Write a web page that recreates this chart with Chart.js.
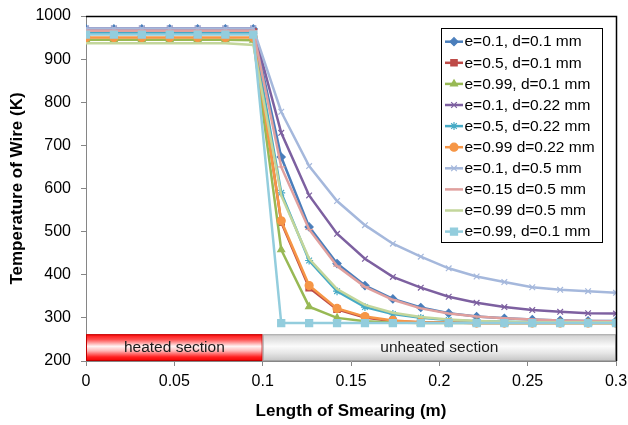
<!DOCTYPE html>
<html>
<head>
<meta charset="utf-8">
<script src="https://cdn.jsdelivr.net/npm/chart.js@4.4.0/dist/chart.umd.min.js"></script>
<style>
  html, body { margin: 0; padding: 0; background: #fff; }
  canvas { display: block; }
</style>
</head>
<body>
<canvas id="wire" width="628" height="425"></canvas>
<script>
// Posiciones a lo largo del alambre (m)
const lengths = [0, 0.0158, 0.0316, 0.0474, 0.0632, 0.0789, 0.0947, 0.1105, 0.1263, 0.1421,
  0.1579, 0.1737, 0.1895, 0.2053, 0.2211, 0.2368, 0.2526, 0.2684, 0.2842, 0.3];

// Temperaturas (K)
const tE01D01 = [970, 970, 970, 970, 970, 970, 970, 673, 511, 426, 375, 344, 324, 311, 303, 299, 296, 294, 293, 293];
const tE05D01 = [964, 964, 964, 964, 964, 964, 963, 522, 370, 320, 301, 292, 290, 289, 288, 288, 288, 288, 288, 288];
const tE099D01 = [945, 945, 945, 945, 945, 945, 944, 458, 326, 300, 292, 289, 288, 288, 288, 288, 288, 288, 288, 288];
const tE01D022 = [971, 971, 971, 971, 971, 971, 971, 729, 584, 495, 437, 395, 370, 349, 335, 325, 318, 314, 311, 310];
const tE05D022 = [960, 960, 960, 960, 960, 960, 960, 590, 433, 362, 325, 309, 300, 295, 292, 291, 290, 290, 289, 289];
const tE099D022 = [950, 950, 950, 950, 950, 950, 950, 525, 375, 322, 303, 294, 290, 289, 288, 288, 288, 288, 288, 288];
const tE01D05 = [971, 971, 971, 971, 971, 971, 971, 778, 652, 571, 515, 472, 442, 415, 396, 383, 371, 365, 362, 358];
const tE015D05 = [966, 966, 966, 966, 966, 966, 966, 650, 505, 420, 372, 342, 322, 310, 303, 299, 296, 294, 293, 292];
const tE099D05 = [937, 937, 937, 937, 937, 937, 933, 584, 437, 367, 330, 312, 302, 296, 293, 291, 290, 290, 290, 290];
const tE099D01b = [957, 957, 957, 957, 957, 957, 957, 288, 288, 288, 288, 288, 288, 288, 288, 288, 288, 288, 288, 288];

const seriesLabels = ["e=0.1, d=0.1 mm", "e=0.5, d=0.1 mm", "e=0.99, d=0.1 mm", "e=0.1, d=0.22 mm",
  "e=0.5, d=0.22 mm", "e=0.99 d=0.22 mm", "e=0.1, d=0.5 mm", "e=0.15 d=0.5 mm",
  "e=0.99 d=0.5 mm", "e=0.99, d=0.1 mm"];
const seriesValues = [tE01D01, tE05D01, tE099D01, tE01D022, tE05D022, tE099D022, tE01D05, tE015D05, tE099D05, tE099D01b];

const xTickLabels = ["0", "0.05", "0.1", "0.15", "0.2", "0.25", "0.3"];
const yTickLabels = ["200", "300", "400", "500", "600", "700", "800", "900", "1000"];

// Zonas del alambre
const sectionNames = ["heated section", "unheated section"];
const sectionEdges = [0, 0.1, 0.3];

// Estilos
const colors = ["#4a7ebb", "#be4b48", "#98b954", "#7d60a0", "#46aac5", "#f69646", "#a5b8dc", "#e0a09e", "#c3d69b", "#93cddd"];
const markers = ["rectRot", "rect", "triangle", "crossRot", "star", "circle", "crossRot", "line", false, "rect"];
const markerSizes = [4, 4.5, 4, 4, 4, 4, 4, 4, 0, 5];
const FONT = '"Liberation Sans", Arial, sans-serif';

const datasets = seriesValues.map((vals, i) => ({
  label: seriesLabels[i],
  data: lengths.map((x, j) => ({ x, y: vals[j] })),
  showLine: true,
  borderColor: colors[i],
  backgroundColor: colors[i],
  pointBackgroundColor: colors[i],
  pointBorderColor: colors[i],
  borderWidth: 2.5,
  pointStyle: markers[i] || "circle",
  pointRadius: markerSizes[i],
  pointBorderWidth: 1.2,
  tension: 0,
  order: seriesValues.length - i,
}));

// Barra de zonas calentada / no calentada
const sectionBand = {
  id: "sectionBand",
  beforeDatasetsDraw(chart) {
    const { ctx, scales: { x, y } } = chart;
    const top = y.getPixelForValue(262);
    const bottom = y.getPixelForValue(200);
    ctx.save();
    sectionNames.forEach((name, i) => {
      const l = x.getPixelForValue(sectionEdges[i]);
      const r = x.getPixelForValue(sectionEdges[i + 1]);
      const g = ctx.createLinearGradient(0, top, 0, bottom);
      if (i === 0) {
        g.addColorStop(0, "#ff0a0a");
        g.addColorStop(0.2, "#ff5050");
        g.addColorStop(0.45, "#fff4f4");
        g.addColorStop(0.62, "#ffb8b8");
        g.addColorStop(0.85, "#ff2020");
        g.addColorStop(1, "#f00000");
      } else {
        g.addColorStop(0, "#cfcfcf");
        g.addColorStop(0.45, "#fbfbfb");
        g.addColorStop(0.7, "#e6e6e6");
        g.addColorStop(1, "#c4c4c4");
      }
      ctx.fillStyle = g;
      ctx.fillRect(l, top, r - l, bottom - top);
      ctx.strokeStyle = i === 0 ? "#c00000" : "#a6a6a6";
      ctx.lineWidth = 1;
      ctx.strokeRect(l + 0.5, top + 0.5, r - l - 1, bottom - top - 1);
      ctx.fillStyle = "#1a1a1a";
      ctx.font = "15.5px " + FONT;
      ctx.textAlign = "center";
      ctx.textBaseline = "middle";
      ctx.fillText(name, (l + r) / 2, (top + bottom) / 2);
    });
    ctx.restore();
  },
  afterDatasetsDraw(chart) {
    const { ctx, chartArea: a } = chart;
    ctx.save();
    ctx.strokeStyle = "#000";
    ctx.lineWidth = 1.5;
    ctx.beginPath();
    ctx.moveTo(a.left, a.top + 0.5);
    ctx.lineTo(a.right + 0.5, a.top + 0.5);
    ctx.lineTo(a.right + 0.5, a.bottom);
    ctx.stroke();
    ctx.restore();
  },
};

// Leyenda en recuadro dentro del área del gráfico
const boxLegend = {
  id: "boxLegend",
  afterDraw(chart) {
    const { ctx, chartArea: a } = chart;
    const left = a.right - 175, top = a.top + 12, w = 161, h = 214, rowH = 21.1;
    ctx.save();
    ctx.fillStyle = "#fff";
    ctx.fillRect(left, top, w, h);
    ctx.strokeStyle = "#000";
    ctx.lineWidth = 1;
    ctx.strokeRect(left + 0.5, top + 0.5, w, h);
    chart.data.datasets.forEach((ds, i) => {
      const yy = top + 13.7 + i * rowH;
      ctx.strokeStyle = ds.borderColor;
      ctx.lineWidth = 2.5;
      ctx.beginPath();
      ctx.moveTo(left + 4, yy);
      ctx.lineTo(left + 22, yy);
      ctx.stroke();
      if (ds.pointRadius > 0) {
        ctx.fillStyle = ds.pointBackgroundColor;
        ctx.strokeStyle = ds.pointBorderColor;
        ctx.lineWidth = 1.2;
        Chart.helpers.drawPoint(ctx, { pointStyle: ds.pointStyle, rotation: 0, radius: ds.pointRadius, borderWidth: 1.2 }, left + 13, yy);
      }
      ctx.fillStyle = "#000";
      ctx.font = "15.5px " + FONT;
      ctx.textAlign = "left";
      ctx.textBaseline = "middle";
      ctx.fillText(ds.label, left + 23.5, yy + 0.5);
    });
    ctx.restore();
  },
};

new Chart(document.getElementById("wire"), {
  type: "scatter",
  data: { datasets },
  options: {
    responsive: false,
    animation: false,
    layout: { padding: { top: 16, right: 12, bottom: 0, left: 0 } },
    plugins: { legend: { display: false }, tooltip: { enabled: false } },
    scales: {
      x: {
        type: "linear",
        min: 0,
        max: 0.3,
        ticks: {
          stepSize: 0.05,
          maxRotation: 0,
          color: "#000",
          padding: 6,
          font: { family: FONT, size: 16 },
          callback: (v) => xTickLabels.find((t) => Math.abs(Number(t) - v) < 1e-9),
        },
        grid: { drawOnChartArea: false, drawTicks: true, tickLength: 5, color: "#868686" },
        border: { color: "#868686" },
        title: {
          display: true,
          text: "Length of Smearing (m)",
          color: "#000",
          font: { family: FONT, size: 17, weight: "bold" },
          padding: { top: 0, bottom: 3 },
        },
        afterFit: (s) => { s.height = 64; s.paddingLeft = 0; s.paddingRight = 0; },
      },
      y: {
        min: 200,
        max: 1000,
        ticks: {
          stepSize: 100,
          color: "#000",
          padding: 10,
          font: { family: FONT, size: 16 },
          callback: (v) => yTickLabels.find((t) => Number(t) === v),
        },
        grid: { drawOnChartArea: false, drawTicks: true, tickLength: 5, color: "#868686" },
        border: { color: "#868686" },
        title: {
          display: true,
          text: "Temperature of Wire (K)",
          color: "#000",
          font: { family: FONT, size: 17, weight: "bold" },
          padding: { top: 7, bottom: 0 },
        },
        afterFit: (s) => { s.width = 86; s.paddingTop = 0; s.paddingBottom = 0; },
      },
    },
  },
  plugins: [sectionBand, boxLegend],
});
</script>
</body>
</html>
